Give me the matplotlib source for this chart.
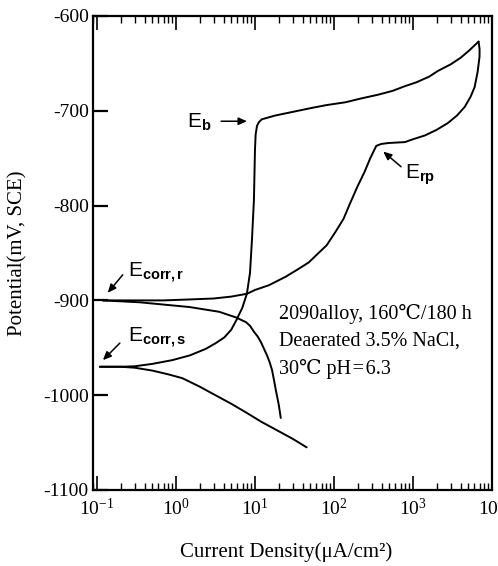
import matplotlib
matplotlib.use("Agg")
import matplotlib.pyplot as plt
import numpy as np

plt.rcParams['font.family'] = ['Liberation Serif', 'DejaVu Serif', 'Noto Sans CJK SC']
plt.rcParams['axes.unicode_minus'] = False
plt.rcParams['mathtext.fontset'] = 'custom'
plt.rcParams['mathtext.rm'] = 'Liberation Serif'
plt.rcParams['mathtext.sf'] = 'Liberation Sans'
plt.rcParams['mathtext.bf'] = 'Liberation Sans:bold'
plt.rcParams['mathtext.it'] = 'Liberation Serif:italic'

# ---- data (current density in uA/cm2, potential in mV SCE) ----
# forward scan, cathodic branch below Ecorr,s
fwd_cath_i = [0.109, 0.2, 0.3, 0.5, 0.8, 1.2, 2.0, 3.0, 5.0, 8.0, 12.0, 20.0,
              30.0, 45.1]
fwd_cath_e = [-970, -970, -971, -974, -978, -982, -991, -999, -1009, -1019,
              -1028, -1038, -1046, -1055]

# forward scan, anodic branch from Ecorr,s up to the vertex
fwd_anod_i = [0.109, 0.2, 0.3, 0.5, 0.9, 1.5, 2.4, 3.2, 4.1, 5.0, 5.8, 6.9,
              7.9, 8.65, 9.16, 9.7, 10.0, 10.2, 10.6, 11.2, 12.2, 18.0, 26.8,
              52.0, 80.0, 140, 220, 363, 550, 792, 1100, 1600, 2061, 3000,
              4018, 5200, 6194, 6761]
fwd_anod_e = [-970, -970, -969.5, -967, -963, -958, -951, -945, -939, -931,
              -921, -908, -893, -871, -836, -794, -741, -725, -716, -712,
              -709, -705, -702, -697, -694, -691, -687, -683, -679, -674,
              -670, -664, -658, -651, -644, -636, -630, -627]

# reverse scan, from vertex down to Ecorr,r
rev_anod_i = [6761, 6966, 6950, 6577, 6026, 5370, 4508, 3600, 2754, 2000,
              1416, 1000, 792, 485, 396, 343, 288, 242, 198, 161, 132, 104,
              80.5, 63.8, 47.8, 33.7, 24.5, 15.0, 10.0, 7.93, 5.0, 3.0,
              1.48, 0.7, 0.348, 0.119]
rev_anod_e = [-627, -635, -643, -659, -675, -685, -696, -705, -713, -720,
              -726, -730, -733, -734, -735, -737, -750, -765, -780, -797,
              -814, -828, -842, -850, -860, -868, -875, -884, -889, -893,
              -896, -898, -899, -900, -900, -900]

# reverse scan, cathodic branch below Ecorr,r
rev_cath_i = [0.119, 0.348, 1.48, 3.52, 5.77, 7.71, 8.7, 9.7, 10.8, 11.9,
              13.0, 14.2, 15.3, 16.4, 17.4, 18.4, 20.0, 21.2]
rev_cath_e = [-900, -902, -907, -912, -918, -923, -927, -933, -938, -944,
              -951, -958, -965, -973, -984, -995, -1010, -1024]

y_ticks = [-600, -700, -800, -900, -1000, -1100]
x_major = [0.1, 1, 10, 100, 1000, 10000]

info_lines = ["2090alloy, 160\u2103/180 h",
              "Deaerated 3.5% NaCl,",
              "30\u2103 pH\u200a=\u200a6.3"]

fig = plt.figure(figsize=(4.98, 5.66), dpi=100)
ax = fig.add_axes([93/498, 76/566, 399/498, 474/566])

lw = 1.4
for xs, ys in [(fwd_cath_i, fwd_cath_e), (fwd_anod_i, fwd_anod_e),
               (rev_anod_i, rev_anod_e), (rev_cath_i, rev_cath_e)]:
    ax.plot(xs, ys, color='black', lw=lw, solid_capstyle='round',
            solid_joinstyle='round')

ax.set_xscale('log')
ax.set_yticks(y_ticks)
ax.set_yticklabels([str(v) for v in y_ticks])
ax.set_xticks(x_major)
ax.set_xlim(10**-1.05, 10**4)
ax.set_ylim(-1100, -600)
ax.xaxis.set_minor_locator(matplotlib.ticker.LogLocator(base=10, subs=np.arange(2, 10), numticks=20))
ax.xaxis.set_major_formatter(matplotlib.ticker.LogFormatterMathtext())
ax.xaxis.set_minor_formatter(matplotlib.ticker.NullFormatter())
ax.xaxis.set_ticks_position('both')

for s in ax.spines.values():
    s.set_linewidth(1.6)

ax.tick_params(axis='y', which='major', direction='in', length=11, width=1.6,
               left=True, right=False, labelsize=14, pad=3)
ax.tick_params(axis='y', which='minor', left=False, right=False)
ax.tick_params(axis='x', which='major', direction='in', length=10, width=1.2,
               bottom=True, top=True, labelbottom=True, labeltop=False,
               labelsize=14, pad=6)
ax.tick_params(axis='x', which='minor', direction='in', length=5, width=1.0,
               bottom=True, top=True)

fig.text(18/498, 1 - 253/566, "Potential(mV, SCE)", rotation=90,
         ha='center', va='center', fontsize=15)
fig.text(286/498, 14/566, "Current Density(\u03bcA/cm\u00b2)",
         ha='center', va='center', fontsize=15)

# annotations
apk = dict(arrowstyle='-|>,head_length=0.5,head_width=0.22', color='black',
           lw=1.1, shrinkA=0, shrinkB=0)
efs = 15
ax.text(1.98, -711, r'$\mathsf{E}_{\mathbf{b}}$', fontsize=efs, ha='center', va='center')
ax.annotate('', xy=(7.93, -711), xytext=(3.73, -711), arrowprops=apk)

ax.text(1225, -768, r'$\mathsf{E}_{\mathbf{rp}}$', fontsize=efs, ha='center', va='center')
ax.annotate('', xy=(420, -743), xytext=(706, -759), arrowprops=apk)

ax.text(0.56, -870, r'$\mathsf{E}_{\mathbf{corr,r}}$', fontsize=efs, ha='center', va='center')
ax.annotate('', xy=(0.137, -892), xytext=(0.212, -873), arrowprops=apk)

ax.text(0.57, -939, r'$\mathsf{E}_{\mathbf{corr,s}}$', fontsize=efs, ha='center', va='center')
ax.annotate('', xy=(0.119, -963), xytext=(0.195, -945), arrowprops=apk)

for line, yv in zip(info_lines, [-914, -943, -972]):
    ax.text(20.0, yv, line, fontsize=14.5, ha='left', va='center')

fig.savefig('out.png', dpi=100)
